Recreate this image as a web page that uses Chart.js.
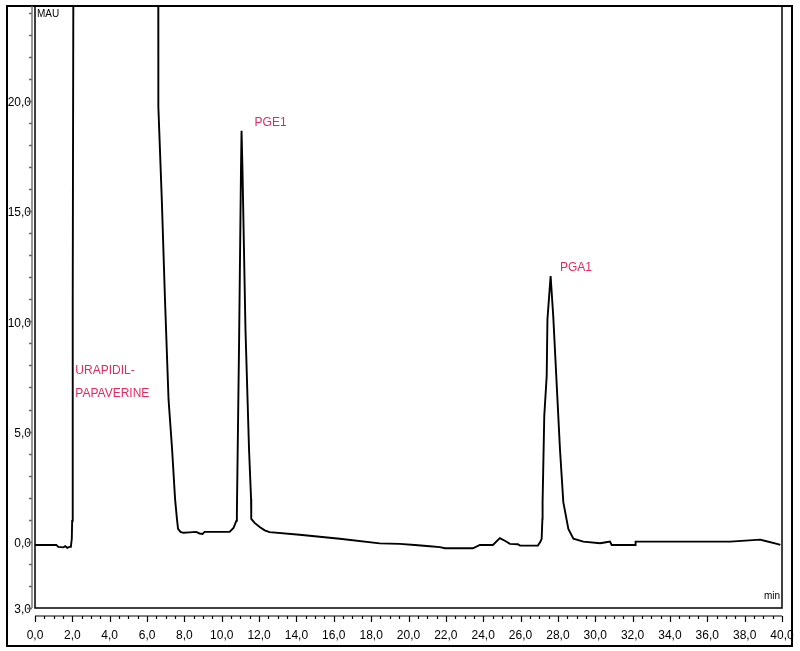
<!DOCTYPE html>
<html>
<head>
<meta charset="utf-8">
<script src="https://cdn.jsdelivr.net/npm/chart.js@4/dist/chart.umd.min.js"></script>
<style>
  body { margin: 0; background: #fff; }
  canvas { display: block; }
</style>
</head>
<body>
<canvas id="chromChart" width="800" height="651"></canvas>
<script>
// retention time (min) and detector signal (mAU)
const timeMin = [
  0, 1.14, 1.25, 1.52, 1.62, 1.73, 1.84, 1.92, 1.97, 1.99, 2.02,
  2.1, 3.0, 5.0, 6.59, 6.60, 6.61, 6.79, 6.96, 7.15, 7.34, 7.50, 7.60, 7.66, 7.79, 7.95,
  8.27, 8.63, 8.81, 8.97, 9.08, 9.61, 10.42, 10.63, 10.78, 10.81,
  10.93, 11.03, 11.06, 11.11, 11.27, 11.46, 11.57, 11.58, 11.76, 12.03, 12.30, 12.56,
  14.17, 16.32, 18.46, 19.53, 20.34, 21.14, 21.68, 21.95, 23.45, 23.82, 24.52, 24.89,
  25.16, 25.43, 25.86, 25.97, 26.93, 27.06, 27.13, 27.17,
  27.18, 27.27, 27.40, 27.44, 27.61, 27.75, 27.93, 28.11, 28.29, 28.56, 28.83, 29.36,
  30.26, 30.58, 30.79, 30.88, 32.13, 32.16, 37.23, 38.84, 39.01, 39.73, 39.91
];
const signalMau = [
  -0.14, -0.14, -0.23, -0.25, -0.20, -0.27, -0.23, -0.23, 0.14, 0.95, 11.0,
  45, 60, 50, 40, 20.2, 19.73, 15.52, 11.0, 6.47, 4.21, 1.95, 1.04, 0.59, 0.45, 0.41,
  0.43, 0.45, 0.38, 0.36, 0.45, 0.45, 0.45, 0.63, 0.95, 1.27,
  9.19, 16.88, 18.64, 16.88, 9.64, 4.21, 1.95, 1.04, 0.86, 0.67, 0.52, 0.44,
  0.32, 0.14, -0.07, -0.09, -0.14, -0.20, -0.24, -0.29, -0.29, -0.14, -0.14, 0.17,
  0.05, -0.09, -0.11, -0.17, -0.17, 0, 0.14, 1.04,
  1.80, 5.71, 7.52, 10.09, 12.05, 10.24, 7.23, 4.21, 1.80, 0.59, 0.14, 0.01,
  -0.06, -0.02, 0.01, -0.14, -0.14, 0.01, 0.01, 0.10, 0.06, -0.09, -0.14
];

const xTickValues = [0, 2, 4, 6, 8, 10, 12, 14, 16, 18, 20, 22, 24, 26, 28, 30, 32, 34, 36, 38, 40];
const xTickLabels = ['0,0', '2,0', '4,0', '6,0', '8,0', '10,0', '12,0', '14,0', '16,0', '18,0', '20,0',
  '22,0', '24,0', '26,0', '28,0', '30,0', '32,0', '34,0', '36,0', '38,0', '40,0'];
const yTickValues = [20, 15, 10, 5, 0, -3];
const yTickLabels = ['20,0', '15,0', '10,0', '5,0', '0,0', '3,0'];

// peak names and where they sit (min, mAU)
const peakNames = ['PGE1', 'PGA1', 'URAPIDIL-', 'PAPAVERINE'];
const peakTimes = [11.76, 28.11, 2.16, 2.16];
const peakLevels = [19.0, 12.44, 7.78, 6.70];

const fontFam = '"Liberation Sans", Arial, sans-serif';

const framePlugin = {
  id: 'frame',
  afterDraw(chart) {
    const c = chart.ctx;
    const area = chart.chartArea;
    const xs = chart.scales.x;
    const ys = chart.scales.y;
    c.save();

    // outer frame
    c.strokeStyle = '#000';
    c.lineWidth = 2;
    c.strokeRect(7, 6, 785, 640);

    // plot box
    c.lineWidth = 1.5;
    c.strokeRect(area.left, area.top, area.right - area.left, area.bottom - area.top);

    // y axis line with ticks
    c.strokeStyle = '#666';
    c.lineWidth = 1.3;
    const axX = area.left - 3;
    c.beginPath();
    c.moveTo(axX, area.top);
    c.lineTo(axX, area.bottom);
    for (let v = -3; v <= 24; v++) {
      const py = Math.round(ys.getPixelForValue(v)) + 0.5;
      const len = (v % 5 === 0 || v === -3) ? 5 : 3;
      c.moveTo(axX - len, py);
      c.lineTo(axX, py);
    }
    c.stroke();

    // x ruler below the plot
    c.strokeStyle = '#000';
    c.lineWidth = 1.2;
    const rulerY = area.bottom + 8;
    c.beginPath();
    c.moveTo(xs.getPixelForValue(0), rulerY);
    c.lineTo(xs.getPixelForValue(40), rulerY);
    for (let t = 0; t <= 40; t += 0.5) {
      const px = Math.round(xs.getPixelForValue(t)) + 0.5;
      const len = (t % 2 === 0) ? 6 : 3;
      c.moveTo(px, rulerY);
      c.lineTo(px, rulerY + len);
    }
    c.stroke();

    // axis units
    c.fillStyle = '#000';
    c.font = '10px ' + fontFam;
    c.textBaseline = 'top';
    c.textAlign = 'left';
    c.fillText('MAU', area.left + 2, area.top + 3);
    c.textAlign = 'right';
    c.textBaseline = 'bottom';
    c.fillText('min', area.right - 2, area.bottom - 7);

    // peak labels
    c.fillStyle = '#e4295f';
    c.font = '12px ' + fontFam;
    c.textAlign = 'left';
    c.textBaseline = 'middle';
    peakNames.forEach(function (name, i) {
      c.fillText(name, xs.getPixelForValue(peakTimes[i]), ys.getPixelForValue(peakLevels[i]));
    });

    c.restore();
  }
};

const ctx = document.getElementById('chromChart').getContext('2d');
new Chart(ctx, {
  type: 'line',
  data: {
    datasets: [{
      data: timeMin.map(function (t, i) { return { x: t, y: signalMau[i] }; }),
      borderColor: '#000',
      borderWidth: 1.9,
      pointRadius: 0,
      tension: 0,
      fill: false
    }]
  },
  options: {
    responsive: false,
    animation: false,
    layout: { padding: { left: 0, top: 6, right: 18, bottom: 0 } },
    plugins: { legend: { display: false }, tooltip: { enabled: false } },
    scales: {
      x: {
        type: 'linear',
        min: 0,
        max: 40,
        afterFit: function (s) {
          s.height = 43;
          s.paddingLeft = 0;
          s.paddingRight = 0;
        },
        afterBuildTicks: function (s) { s.ticks = xTickValues.map(function (v) { return { value: v }; }); },
        grid: { display: false, drawTicks: false },
        border: { display: false },
        ticks: {
          color: '#000',
          font: { size: 12, family: fontFam },
          padding: 20,
          maxRotation: 0,
          autoSkip: false,
          callback: function (v) { return xTickLabels[xTickValues.indexOf(v)]; }
        }
      },
      y: {
        min: -3,
        max: 24.3,
        afterFit: function (s) {
          s.width = 35;
          s.paddingTop = 0;
          s.paddingBottom = 0;
        },
        afterBuildTicks: function (s) { s.ticks = yTickValues.map(function (v) { return { value: v }; }); },
        grid: { display: false, drawTicks: false },
        border: { display: false },
        ticks: {
          color: '#000',
          font: { size: 12, family: fontFam },
          padding: 4,
          labelOffset: 2,
          autoSkip: false,
          callback: function (v) { return yTickLabels[yTickValues.indexOf(v)]; }
        }
      }
    }
  },
  plugins: [framePlugin]
});
</script>
</body>
</html>
